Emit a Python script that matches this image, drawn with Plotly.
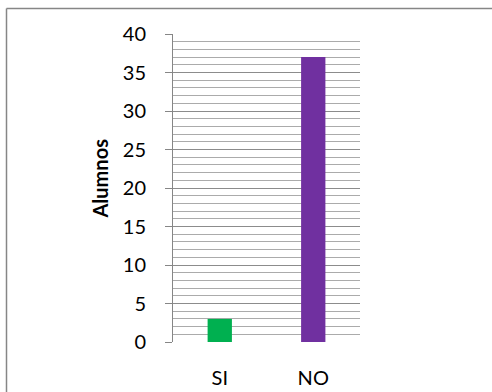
import plotly.graph_objects as go

categories = ["SI", "NO"]
values = [3, 37]
colors = ["#00B050", "#7030A0"]
y_ticks = [0, 5, 10, 15, 20, 25, 30, 35, 40]
y_title = "Alumnos"

W, H = 492, 392
L, R, T, B = 173, 132, 34, 50
pw, ph = W - L - R, H - T - B

font = "Lato, 'Open Sans', sans-serif"

fig = go.Figure(go.Bar(x=categories, y=values, marker=dict(color=colors, line=dict(width=0)), width=0.26))

border = dict(color="#868686", width=1.5)
fig.update_layout(
    width=W, height=H,
    margin=dict(l=L, r=R, t=T, b=B, pad=0, autoexpand=False),
    paper_bgcolor="white", plot_bgcolor="white",
    showlegend=False,
    font=dict(family=font, size=20, color="black"),
    xaxis=dict(
        showline=False, showgrid=False, ticks="", zeroline=False, automargin=False,
        tickfont=dict(size=20), ticklabelstandoff=22,
    ),
    yaxis=dict(
        range=[0, 40], tickvals=y_ticks, ticks="outside", ticklen=7, tickcolor="#868686",
        showline=True, linecolor="#868686", linewidth=1, automargin=False,
        showgrid=True, gridcolor="#8C8C8C", gridwidth=1,
        minor=dict(dtick=1, showgrid=True, gridcolor="#ABABAB", gridwidth=1, ticks=""),
        zeroline=False, ticklabelstandoff=15,
        tickfont=dict(size=20),
    ),
    annotations=[dict(
        text="<b>" + y_title + "</b>", textangle=-90, showarrow=False,
        xref="paper", yref="paper", x=(100 - L) / pw, y=(H - B - 178.5) / ph,
        xanchor="center", yanchor="middle", font=dict(size=20, family=font),
    )],
    shapes=[
        dict(type="line", xref="paper", yref="paper",
             x0=(6.5 - L) / pw, x1=(W + 5 - L) / pw,
             y0=(H - B - 8.5) / ph, y1=(H - B - 8.5) / ph, line=border, layer="above"),
        dict(type="line", xref="paper", yref="paper",
             x0=(6.5 - L) / pw, x1=(6.5 - L) / pw,
             y0=(H - B - 8.5) / ph, y1=(H - B - (H + 5)) / ph, line=border, layer="above"),
    ],
)

fig.write_html("out.html", config={"displayModeBar": False},
               post_script="document.body.style.margin='0';")
